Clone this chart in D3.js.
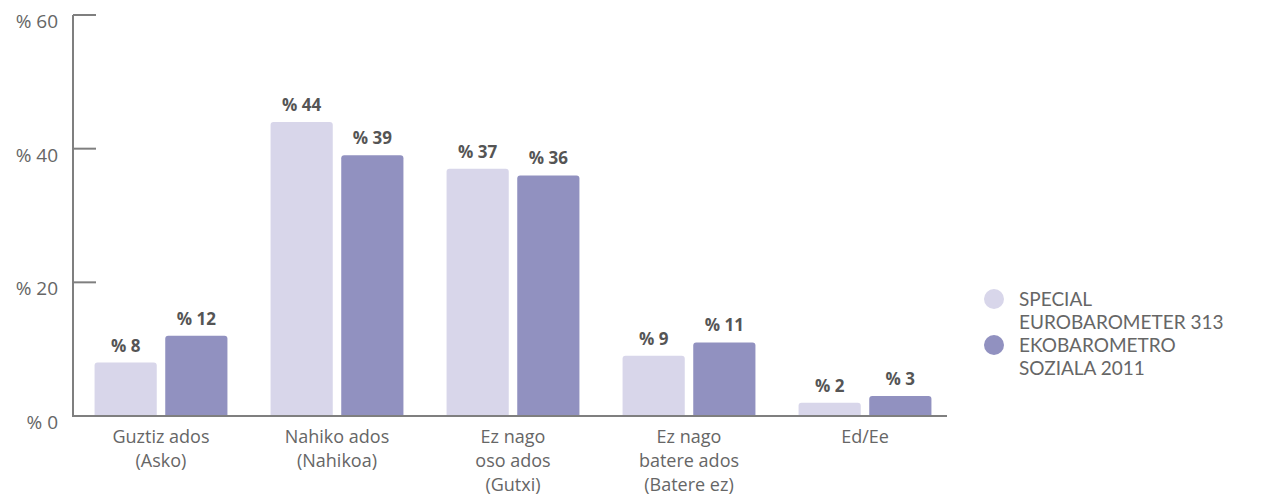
<!DOCTYPE html>
<html>
<head>
<meta charset="utf-8">
<script src="https://cdn.jsdelivr.net/npm/d3@7"></script>
<style>
  body { margin: 0; background: #fff; }
  svg text { font-family: "Open Sans", sans-serif; }
  svg .legend text { font-family: Lato, "Open Sans", sans-serif; }
</style>
</head>
<body>
<div class="canvas"></div>
<script>
const categories = [
    ["Guztiz ados", "(Asko)"],
    ["Nahiko ados", "(Nahikoa)"],
    ["Ez nago", "oso ados", "(Gutxi)"],
    ["Ez nago", "batere ados", "(Batere ez)"],
    ["Ed/Ee"]
];
const seriesNames = [
    ["SPECIAL", "EUROBAROMETER 313"],
    ["EKOBAROMETRO", "SOZIALA 2011"]
];
const euroValues = [8, 44, 37, 9, 2];
const ekoValues = [12, 39, 36, 11, 3];
const yTicks = [0, 20, 40, 60];

const colors = ["#d8d6ea", "#9191c0"];
const axisColor = "#7f7f7f";
const textColor = "#666";

const dims = { width: 1268, height: 495 };
const plot = { left: 73, right: 953, top: 15, bottom: 416 };

const svg = d3
    .select(".canvas")
    .append("svg")
    .attr("width", dims.width)
    .attr("height", dims.height);

const keys = categories.map((c, i) => i);

const x0 = d3
    .scaleBand()
    .domain(keys)
    .range([plot.left, plot.right])
    .paddingInner(0.245)
    .paddingOuter(0.1225);

const x1 = d3
    .scaleBand()
    .domain([0, 1])
    .range([0, x0.bandwidth()])
    .paddingInner(0.12);

const y = d3.scaleLinear().domain([0, 60]).range([plot.bottom, plot.top]);

// y axis line + ticks
svg.append("line")
    .attr("x1", plot.left).attr("x2", plot.left)
    .attr("y1", y(60)).attr("y2", y(0))
    .attr("stroke", axisColor).attr("stroke-width", 2);

svg.selectAll(".ytick")
    .data(yTicks.filter((d) => d > 0))
    .enter()
    .append("line")
    .attr("x1", plot.left).attr("x2", plot.left + 23)
    .attr("y1", (d) => y(d)).attr("y2", (d) => y(d))
    .attr("stroke", axisColor).attr("stroke-width", 2);

svg.selectAll(".ylabel")
    .data(yTicks)
    .enter()
    .append("text")
    .attr("x", 58)
    .attr("y", (d) => y(d) + 13)
    .attr("text-anchor", "end")
    .attr("font-size", 19)
    .attr("fill", textColor)
    .text((d) => `% ${d}`);

// bars
const data = keys.map((i) => [euroValues[i], ekoValues[i]]);

const groups = svg
    .selectAll(".group")
    .data(data)
    .enter()
    .append("g")
    .attr("transform", (d, i) => `translate(${x0(i)},0)`);

groups
    .selectAll("path")
    .data((d) => d)
    .enter()
    .append("path")
    .attr("fill", (d, j) => colors[j])
    .attr("d", (d, j) => {
        const bx = x1(j), bw = x1.bandwidth(), top = y(d), bot = y(0), r = 3;
        return `M${bx},${bot}V${top + r}Q${bx},${top} ${bx + r},${top}H${bx + bw - r}Q${bx + bw},${top} ${bx + bw},${top + r}V${bot}Z`;
    });

groups
    .selectAll(".val")
    .data((d) => d)
    .enter()
    .append("text")
    .attr("x", (d, j) => x1(j) + x1.bandwidth() / 2)
    .attr("y", (d) => y(d) - 11)
    .attr("text-anchor", "middle")
    .attr("font-size", 17)
    .attr("font-weight", 700)
    .attr("fill", "#555")
    .text((d) => `% ${d}`);

// x axis line
svg.append("line")
    .attr("x1", plot.left - 1).attr("x2", 947)
    .attr("y1", y(0)).attr("y2", y(0))
    .attr("stroke", axisColor).attr("stroke-width", 2);

// category labels
svg.selectAll(".cat")
    .data(categories)
    .enter()
    .append("text")
    .attr("text-anchor", "middle")
    .attr("font-size", 18)
    .attr("fill", textColor)
    .each(function (d, i) {
        d3.select(this)
            .selectAll("tspan")
            .data(d)
            .enter()
            .append("tspan")
            .attr("x", x0(i) + x0.bandwidth() / 2)
            .attr("y", (t, k) => 443 + k * 24)
            .text((t) => t);
    });

// legend
const legend = svg
    .selectAll(".legend")
    .data(seriesNames)
    .enter()
    .append("g")
    .attr("class", "legend")
    .attr("transform", (d, i) => `translate(994, ${299 + i * 46})`);

legend.append("circle")
    .attr("r", 10)
    .attr("fill", (d, i) => colors[i]);

legend.append("text")
    .attr("font-size", 19)
    .attr("fill", textColor)
    .selectAll("tspan")
    .data((d) => d)
    .enter()
    .append("tspan")
    .attr("x", 25)
    .attr("y", (t, k) => 7 + k * 23)
    .text((t) => t);
</script>
</body>
</html>
